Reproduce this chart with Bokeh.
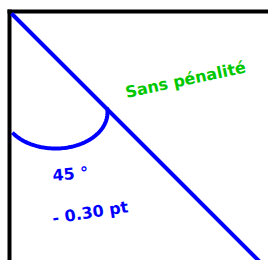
import numpy as np
from bokeh.plotting import figure
from bokeh.models import Range1d
from bokeh.core.properties import value
from bokeh.embed import file_html
from bokeh.resources import INLINE

# Data / labels
angle_deg = 45
penalty = -0.30
zone_label = "Sans pénalité"
angle_label = f"{angle_deg} °"
penalty_label = f"- {abs(penalty):.2f} pt"

W, H = 268, 260
p = figure(width=W, height=H, output_backend="svg", toolbar_location=None,
           x_range=Range1d(0, W), y_range=Range1d(H, 0), min_border=0,
           outline_line_color=None, background_fill_color="white")
p.axis.visible = False
p.grid.visible = False

# arc (elliptical, drawn first so the line sits on top)
cx, cy, a, b = 55, 112, 52, 36
t = np.radians(np.linspace(-8, 146, 80))
p.line(cx + a * np.cos(t), cy + b * np.sin(t), line_color="#0000ff", line_width=4)

# frame
p.segment(x0=[9, 7], y0=[9, 11], x1=[9, W], y1=[H, 11], line_color="black", line_width=4)

# diagonal at angle_deg
x0, y0 = 11, 13
L = 400
p.segment(x0=[x0], y0=[y0], x1=[x0 + L * np.cos(np.radians(angle_deg))],
          y1=[y0 + L * np.sin(np.radians(angle_deg))], line_color="#0000ff", line_width=4)

p.text(x=[125], y=[92], text=[zone_label], angle=np.radians(12),
       text_font=value("DejaVu Sans"), text_font_style="bold", text_font_size="16px",
       text_color="#00c800", text_baseline="alphabetic")
p.text(x=[52, 52], y=[175, 218], text=[angle_label, penalty_label],
       angle=[np.radians(5), np.radians(9)],
       text_font=value("DejaVu Sans"), text_font_style="bold", text_font_size="16px",
       text_color="#0000ff", text_baseline="alphabetic")

open("out.html", "w").write(file_html(p, INLINE))
